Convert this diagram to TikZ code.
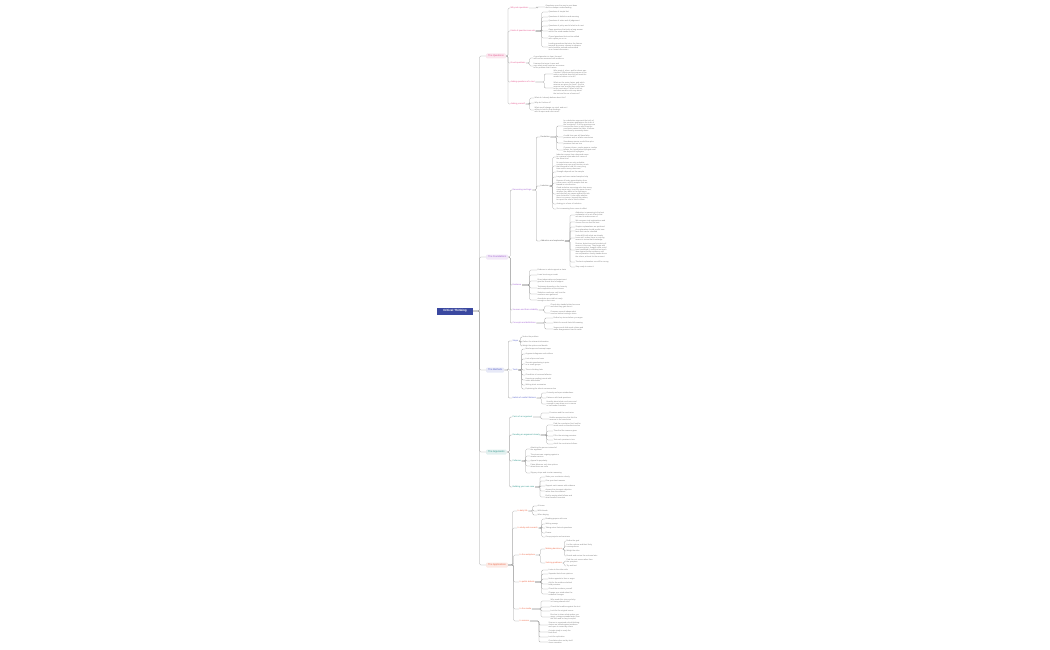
\documentclass[tikz,border=0pt]{standalone}
\usepackage{fontspec}
\setmainfont{Liberation Sans}
\usetikzlibrary{calc}
\definecolor{rootblue}{RGB}{58, 72, 160}
\definecolor{questpink}{RGB}{226, 84, 140}
\definecolor{basepurple}{RGB}{160, 96, 208}
\definecolor{methodblue}{RGB}{86, 96, 200}
\definecolor{argteal}{RGB}{48, 150, 140}
\definecolor{useorange}{RGB}{236, 104, 72}
\definecolor{linkgray}{RGB}{155, 155, 155}
\definecolor{leafgray}{RGB}{125, 125, 125}

\begin{document}
\begin{tikzpicture}[x=1pt, y=-1pt,
    root/.style={fill=rootblue, text=white, font=\fontsize{3}{3.6}\selectfont\bfseries,
                 minimum width=36pt, minimum height=7pt, inner sep=1pt},
    branch/.style={fill=#1!14, text=#1, font=\fontsize{2.4}{2.8}\selectfont, rounded corners=1pt,
                   minimum height=5pt, inner xsep=2pt, inner ysep=0.6pt, anchor=west},
    topic/.style={text=#1, font=\fontsize{2.1}{2.5}\selectfont, inner sep=0.5pt, anchor=west},
    subtopic/.style={text=leafgray!80!black, font=\fontsize{2}{2.4}\selectfont, inner sep=0.5pt, anchor=west},
    leaf/.style={text=leafgray, font=\fontsize{1.9}{2.15}\selectfont, align=left, inner sep=0.4pt, anchor=west},
    link/.style={draw=linkgray, line width=0.25pt, rounded corners=1.2pt,
                 to path={(\tikztostart) -- ($(\tikztostart)!0.5!(\tikztostart -| \tikztotarget)$) |- (\tikztotarget)}}]
    \useasboundingbox (0, 0) rectangle (1050, 650);

    % Root
    \node[root] (r) at (455, 311) {Critical Thinking};

    % Main branches
    \node[branch=questpink] (b1) at (486, 56) {The Questions};
    \node[branch=basepurple] (b2) at (486, 257) {The Foundations};
    \node[branch=methodblue] (b3) at (486, 370) {The Methods};
    \node[branch=argteal] (b4) at (486, 452) {The Arguments};
    \node[branch=useorange] (b5) at (486, 565) {The Applications};
    \foreach \b in {b1, b2, b3, b4, b5} {
        \draw[link] (r.east) to (\b.west);
    }

    % ---- The Questions
    \node[topic=questpink] (b1a) at (510, 8) {Why ask questions};
    \node[topic=questpink] (b1b) at (510, 31) {Kinds of questions we ask};
    \node[topic=questpink] (b1c) at (510, 63) {Good questions};
    \node[topic=questpink] (b1d) at (510, 82) {Asking questions of a text};
    \node[topic=questpink] (b1e) at (510, 104) {Asking yourself};
    \foreach \t in {b1a, b1b, b1c, b1d, b1e} {
        \draw[link] (b1.east) to (\t.west);
    }
    \foreach \y/\t [count=\i] in {7/{Questions open the way to new ideas\\and to a deeper understanding}} {
        \node[leaf] (b1a-\i) at (545, \y) {\t};
        \draw[link] (b1a.east) to (b1a-\i.west);
    }
    \foreach \y/\t [count=\i] in {12/{Questions of simple fact},
        17/{Questions of definition and meaning},
        21/{Questions of value and of judgement},
        26/{Questions of policy and of what to do next},
        31/{Open questions that invite a long answer\\and let the mind wander further},
        38/{Closed questions that can be settled\\with a plain yes or no},
        47/{Leading questions that steer the listener\\towards an answer chosen in advance\\and should be noticed and avoided\\in an honest discussion}} {
        \node[leaf] (b1b-\i) at (548, \y) {\t};
        \draw[link] (b1b.east) to (b1b-\i.west);
    }
    \foreach \y/\t [count=\i] in {58/{A good question is clear, focused\\and can be answered with evidence},
        66/{It names the terms it uses and\\says what would count as an answer\\to the problem that it raises}} {
        \node[leaf] (b1c-\i) at (533, \y) {\t};
        \draw[link] (b1c.east) to (b1c-\i.west);
    }
    \foreach \y/\t [count=\i] in {74/{Who wrote it, when, and for whom was\\it written? What was the purpose of the\\author and what does the text want the\\reader to believe or to do?},
        88/{What are the main claims, and which\\reasons are given for them? Are the\\reasons true, and do they really lead\\to the conclusion? What is left out,\\and what would a critic say about\\the text and its use of sources?}} {
        \node[leaf] (b1d-\i) at (553, \y) {\t};
        \draw[link] (b1d.east) to (b1d-\i.west);
    }
    \foreach \y/\t [count=\i] in {98/{What do I already believe about this?},
        103/{Why do I believe it?},
        110/{What would change my mind, and am I\\willing to look for that evidence\\with an open and a fair mind?}} {
        \node[leaf] (b1e-\i) at (534, \y) {\t};
        \draw[link] (b1e.east) to (b1e-\i.west);
    }

    % ---- The Foundations
    \node[topic=basepurple] (b2a) at (512, 190) {Reasoning and logic};
    \node[topic=basepurple] (b2b) at (512, 285) {Evidence};
    \node[topic=basepurple] (b2c) at (512, 310) {Sources and their reliability};
    \node[topic=basepurple] (b2d) at (512, 323) {Concepts and definitions};
    \foreach \t in {b2a, b2b, b2c, b2d} {
        \draw[link] (b2.east) to (\t.west);
    }
    \node[subtopic] (b2a1) at (540, 137) {Deduction};
    \node[subtopic] (b2a2) at (540, 186) {Induction};
    \node[subtopic] (b2a3) at (540, 241) {Abduction and explanation};
    \foreach \t in {b2a1, b2a2, b2a3} {
        \draw[link] (b2a.east) to (\t.west);
    }
    \foreach \y/\t [count=\i] in {126/{In a deductive argument the truth of\\the premises guarantees the truth of\\the conclusion. If all the premises are\\true and the form is valid, then the\\conclusion cannot be false; it follows\\from them by necessity alone},
        137/{A valid form can still have false\\premises and so a false conclusion},
        143/{Soundness means a valid form plus\\premises that are true},
        150/{Common forms: modus ponens, modus\\tollens, the hypothetical syllogism and\\the disjunctive syllogism}} {
        \node[leaf] (b2a1-\i) at (563, \y) {\t};
        \draw[link] (b2a1.east) to (b2a1-\i.west);
    }
    \foreach \y/\t [count=\i] in {157/{Induction moves from observed cases\\to a general claim about all cases of\\the same kind},
        166/{Its conclusions are only probable;\\a single new case may overturn a rule\\that seemed to hold for a very long\\time and for many observers},
        172/{Strength depends on the sample},
        177/{Larger and more varied samples help},
        183/{Beware of hasty generalisation from\\a few cases, and of samples that are\\biased in one direction},
        194/{Good inductive reasoning asks how many\\cases were seen, how they were chosen,\\whether they differ in the right ways,\\and whether any cases against the rule\\were looked for. It also asks whether\\there is a reason, beyond the pattern,\\to expect the rule to hold in future},
        204/{Analogy is a form of induction},
        209/{So is reasoning from cause to effect}} {
        \node[leaf] (b2a2-\i) at (556, \y) {\t};
        \draw[link] (b2a2.east) to (b2a2-\i.west);
    }
    \foreach \y/\t [count=\i] in {215/{Abduction is reasoning to the best\\explanation of a set of facts that\\we want to make sense of},
        222/{We compare rival explanations and\\choose the one that fits best},
        227/{Simpler explanations are preferred},
        231/{An explanation should predict new\\facts that can be checked},
        238/{It should fit with what we already\\know well, unless there is a strong\\reason to revise that knowledge},
        250/{Doctors, detectives and scientists all\\reason in this way. They begin with\\a surprising fact, imagine what could\\have produced it, and then test each\\idea against further evidence until\\one explanation clearly stands above\\the others, at least for the moment},
        262/{The best explanation can still be wrong},
        267/{Stay ready to revise it}} {
        \node[leaf] (b2a3-\i) at (575, \y) {\t};
        \draw[link] (b2a3.east) to (b2a3-\i.west);
    }
    \foreach \y/\t [count=\i] in {270/{Evidence is what supports a claim},
        275/{It can be strong or weak},
        281/{Direct observation and experiment\\give the firmest kind of support},
        288/{Testimony depends on the honesty\\and competence of the witness},
        294/{Statistics need care: ask how the\\numbers were gathered},
        300/{Anecdotes are vivid but rarely\\enough on their own}} {
        \node[leaf] (b2b-\i) at (537, \y) {\t};
        \draw[link] (b2b.east) to (b2b-\i.west);
    }
    \foreach \y/\t [count=\i] in {306/{Check who stands behind a source\\and what they gain from it},
        313/{Compare several independent\\sources before trusting a claim}} {
        \node[leaf] (b2c-\i) at (550, \y) {\t};
        \draw[link] (b2c.east) to (b2c-\i.west);
    }
    \foreach \y/\t [count=\i] in {318/{Define key terms before you argue},
        323/{Watch for words that shift meaning},
        329/{Vague words hide weak claims and\\make disagreement hard to settle}} {
        \node[leaf] (b2d-\i) at (553, \y) {\t};
        \draw[link] (b2d.east) to (b2d-\i.west);
    }

    % ---- The Methods
    \node[topic=methodblue] (b3a) at (512, 341) {Steps};
    \node[topic=methodblue] (b3b) at (512, 370) {Tools};
    \node[topic=methodblue] (b3c) at (512, 398) {Habits of careful thinkers};
    \foreach \t in {b3a, b3b, b3c} {
        \draw[link] (b3.east) to (\t.west);
    }
    \foreach \y/\t [count=\i] in {337/{Notice the problem},
        342/{Gather the relevant information},
        346/{Weigh the options and decide}} {
        \node[leaf] (b3a-\i) at (522, \y) {\t};
        \draw[link] (b3a.east) to (b3a-\i.west);
    }
    \foreach \y/\t [count=\i] in {349/{Mind maps and concept maps},
        354/{Argument diagrams and outlines},
        359/{Lists of pros and cons},
        364/{Socratic questioning in pairs\\or in small groups},
        370/{The six thinking hats},
        375/{Checklists of common fallacies},
        380/{Keeping a reading journal with\\notes and doubts},
        385/{Writing short summaries},
        389/{Explaining the idea to someone else}} {
        \node[leaf] (b3b-\i) at (525, \y) {\t};
        \draw[link] (b3b.east) to (b3b-\i.west);
    }
    \foreach \y/\t [count=\i] in {393/{Curiosity and open-mindedness},
        398/{Patience with hard questions},
        404/{Humility about what one knows and\\courage to say when one is unsure\\or has made a mistake}} {
        \node[leaf] (b3c-\i) at (546, \y) {\t};
        \draw[link] (b3c.east) to (b3c-\i.west);
    }

    % ---- The Arguments
    \node[topic=argteal] (b4a) at (512, 417) {Parts of an argument};
    \node[topic=argteal] (b4b) at (512, 435) {Reading an argument closely};
    \node[topic=argteal] (b4c) at (512, 461) {Fallacies};
    \node[topic=argteal] (b4d) at (512, 487) {Building your own case};
    \foreach \t in {b4a, b4b, b4c, b4d} {
        \draw[link] (b4.east) to (\t.west);
    }
    \foreach \y/\t [count=\i] in {413/{Premises and the conclusion},
        419/{Hidden assumptions that link the\\reasons to the conclusion}} {
        \node[leaf] (b4a-\i) at (549, \y) {\t};
        \draw[link] (b4a.east) to (b4a-\i.west);
    }
    \foreach \y/\t [count=\i] in {425/{Find the conclusion first; look for\\words such as therefore and so},
        431/{Then find the reasons given},
        436/{Fill in the missing premises},
        440/{Test each premise in turn},
        444/{Ask if the conclusion follows}} {
        \node[leaf] (b4b-\i) at (553, \y) {\t};
        \draw[link] (b4b.east) to (b4b-\i.west);
    }
    \foreach \y/\t [count=\i] in {449/{Attacking the person instead of\\the argument},
        456/{The straw man: arguing against a\\weaker version},
        461/{Appeal to popularity},
        466/{False dilemma: only two options\\when there are more},
        473/{Slippery slope and circular reasoning}} {
        \node[leaf] (b4c-\i) at (530, \y) {\t};
        \draw[link] (b4c.east) to (b4c-\i.west);
    }
    \foreach \y/\t [count=\i] in {477/{State your conclusion clearly},
        481/{Give your best reasons},
        486/{Support each reason with evidence},
        491/{Answer the strongest objection\\rather than the weakest},
        497/{End by saying what follows and\\what remains uncertain}} {
        \node[leaf] (b4d-\i) at (545, \y) {\t};
        \draw[link] (b4d.east) to (b4d-\i.west);
    }

    % ---- The Applications
    \node[topic=useorange] (b5a) at (517, 511) {In daily life};
    \node[topic=useorange] (b5b) at (517, 528) {In study and research};
    \node[topic=useorange] (b5c) at (519, 555) {In the workplace};
    \node[topic=useorange] (b5d) at (519, 582) {In public debate};
    \node[topic=useorange] (b5e) at (519, 609) {In the media};
    \node[topic=useorange] (b5f) at (519, 621) {In science};
    \foreach \t in {b5a, b5b, b5c, b5d, b5e, b5f} {
        \draw[link] (b5.east) to (\t.west);
    }
    \node[topic=useorange] (b5c1) at (545, 549) {Making decisions};
    \node[topic=useorange] (b5c2) at (545, 563) {Solving problems};
    \foreach \t in {b5c1, b5c2} {
        \draw[link] (b5c.east) to (\t.west);
    }
    \foreach \y/\t [count=\i] in {506/{At home},
        511/{With friends},
        515/{When buying}} {
        \node[leaf] (b5a-\i) at (537, \y) {\t};
        \draw[link] (b5a.east) to (b5a-\i.west);
    }
    \foreach \y/\t [count=\i] in {519/{Reading papers with care},
        524/{Writing essays},
        528/{Taking notes that ask questions},
        533/{Exams},
        537/{Group projects and seminars}} {
        \node[leaf] (b5b-\i) at (545, \y) {\t};
        \draw[link] (b5b.east) to (b5b-\i.west);
    }
    \foreach \y/\t [count=\i] in {541/{Define the goal},
        546/{List the options and their likely\\consequences},
        551/{Weigh the risks},
        556/{Decide and review the outcome later}} {
        \node[leaf] (b5c1-\i) at (566, \y) {\t};
        \draw[link] (b5c1.east) to (b5c1-\i.west);
    }
    \foreach \y/\t [count=\i] in {561/{Find the root cause rather than\\the symptom},
        566/{Try and test}} {
        \node[leaf] (b5c2-\i) at (566, \y) {\t};
        \draw[link] (b5c2.east) to (b5c2-\i.west);
    }
    \foreach \y/\t [count=\i] in {570/{Listen to the other side},
        574/{Separate facts from opinions},
        579/{Notice appeals to fear or anger},
        584/{Ask for the evidence behind\\bold promises},
        589/{Check the numbers yourself},
        594/{Change your mind when the\\evidence changes}} {
        \node[leaf] (b5d-\i) at (548, \y) {\t};
        \draw[link] (b5d.east) to (b5d-\i.west);
    }
    \foreach \y/\t [count=\i] in {601/{Who made this story and why\\is it being shared now?},
        607/{Check the headline against the text},
        611/{Look for the original source},
        617/{Be slow to share what makes you\\angry; outrage spreads faster than\\the truth and is easy to exploit}} {
        \node[leaf] (b5e-\i) at (550, \y) {\t};
        \draw[link] (b5e.east) to (b5e-\i.west);
    }
    \foreach \y/\t [count=\i] in {625/{Science is organised critical thinking:\\claims are tested against evidence\\and open to review by others},
        632/{A single study is rarely the\\final word},
        637/{Look for replication},
        642/{Correlation does not by itself\\show causation}} {
        \node[leaf] (b5f-\i) at (548, \y) {\t};
        \draw[link] (b5f.east) to (b5f-\i.west);
    }
\end{tikzpicture}
\end{document}
